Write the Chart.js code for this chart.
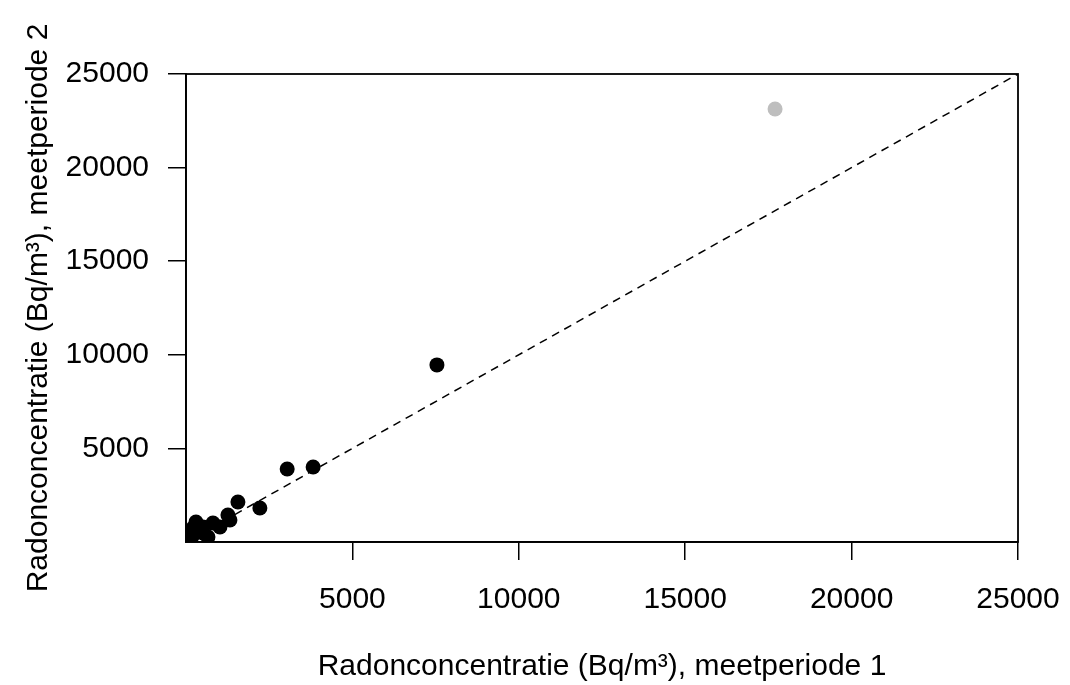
<!DOCTYPE html>
<html>
<head>
<meta charset="utf-8">
<script src="https://cdn.jsdelivr.net/npm/chart.js@4"></script>
<style>
  html, body { margin: 0; padding: 0; background: #fff; }
  #wrap { width: 1070px; height: 685px; }
</style>
</head>
<body>
<div id="wrap"><canvas id="radonChart" width="1070" height="685"></canvas></div>
<script>
// radon per meetpunt, meetperiode 1 vs meetperiode 2 (Bq/m3)
const period1 = [60, 210, 210, 300, 510, 510, 660, 810, 1020, 1260, 1320, 1560, 2220, 3040, 3820, 7540];
const period2 = [270, 370, 750, 1070, 480, 800, 270, 1015, 800, 1440, 1175, 2140, 1820, 3900, 4010, 9460];

// afwijkend punt (grijs)
const outlierP1 = [17700];
const outlierP2 = [23130];

const axisMin = 0;
const axisMax = 25000;
const axisTicks = [5000, 10000, 15000, 20000, 25000];

const fontFamily = '"Liberation Sans", Arial, sans-serif';

function toPoints(xs, ys) {
    return xs.map((x, i) => ({ x: x, y: ys[i] }));
}

// ### kader rond het plotgebied
const boxPlugin = {
    id: 'box',
    afterDraw(chart) {
        const { ctx, chartArea } = chart;
        ctx.save();
        ctx.strokeStyle = '#000';
        ctx.lineWidth = 1.8;
        ctx.strokeRect(chartArea.left, chartArea.top, chartArea.right - chartArea.left, chartArea.bottom - chartArea.top);
        ctx.restore();
    }
};

function axis(titleText, fixSize, tickPad, titlePad) {
    return {
        type: 'linear',
        min: axisMin,
        max: axisMax,
        afterBuildTicks: (scale) => { scale.ticks = axisTicks.map(v => ({ value: v })); },
        afterFit: fixSize,
        ticks: {
            color: '#000',
            font: { family: fontFamily, size: 30 },
            padding: tickPad,
            maxRotation: 0,
            autoSkip: false,
            callback: (v) => String(v)
        },
        grid: {
            drawOnChartArea: false,
            drawTicks: true,
            tickLength: 18,
            color: '#000',
            lineWidth: 1.5
        },
        border: { display: true, color: '#000', width: 1.8 },
        title: {
            display: true,
            text: titleText,
            color: '#000',
            font: { family: fontFamily, size: 30 },
            padding: titlePad
        }
    };
}

const data = {
    datasets: [
        {
            label: 'meetpunten',
            data: toPoints(period1, period2),
            backgroundColor: '#000',
            borderColor: '#000',
            pointRadius: 7.5,
            pointBorderWidth: 0,
            clip: 0
        },
        {
            label: 'afwijkend',
            data: toPoints(outlierP1, outlierP2),
            backgroundColor: '#bebebe',
            borderColor: '#bebebe',
            pointRadius: 7.5,
            pointBorderWidth: 0,
            clip: 0
        },
        {
            label: 'y = x',
            type: 'line',
            data: [{ x: axisMin, y: axisMin }, { x: axisMax, y: axisMax }],
            borderColor: '#000',
            borderWidth: 1.5,
            borderDash: [8, 6],
            pointRadius: 0,
            fill: false
        }
    ]
};

const config = {
    type: 'scatter',
    data: data,
    options: {
        responsive: false,
        animation: false,
        layout: { padding: { top: 74, right: 52, left: 0, bottom: 0 } },
        plugins: {
            legend: { display: false },
            tooltip: { enabled: false }
        },
        scales: {
            x: axis('Radonconcentratie (Bq/m³), meetperiode 1',
                (scale) => { scale.height = 143; scale.paddingRight = 0; scale.paddingLeft = 0; },
                22, { top: 0, bottom: 0 }),
            y: axis('Radonconcentratie (Bq/m³), meetperiode 2',
                (scale) => { scale.width = 186; scale.paddingTop = 0; scale.paddingBottom = 0; },
                19, { top: 21, bottom: 0 })
        }
    },
    plugins: [boxPlugin]
};

new Chart(document.getElementById('radonChart'), config);
</script>
</body>
</html>
